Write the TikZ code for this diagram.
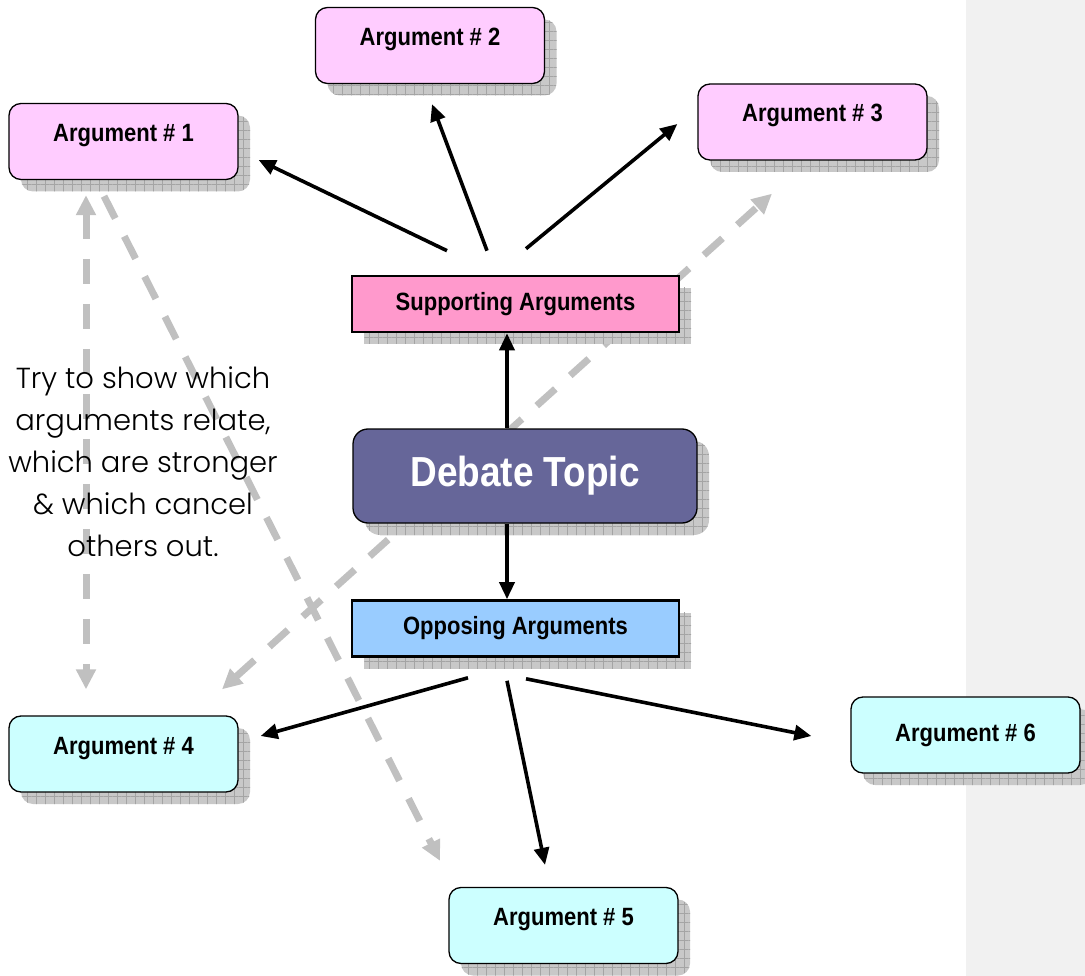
\documentclass[tikz,border=0pt]{standalone}
\usepackage{fontspec}
\usepackage{xcolor}
\usetikzlibrary{arrows.meta, positioning, calc, shadows, patterns.meta, backgrounds}
\setmainfont{Liberation Sans}
\newfontfamily\boxfont[FakeStretch=0.88]{Liberation Sans}
\newfontfamily\notefont{Poppins Light}
\definecolor{dbpink}{HTML}{FFCCFF}
\definecolor{dbrose}{HTML}{FF99CC}
\definecolor{dbpurple}{HTML}{666699}
\definecolor{dbblue}{HTML}{99CCFF}
\definecolor{dbcyan}{HTML}{CCFFFF}
\definecolor{dbshadow}{HTML}{C8C8C8}
\definecolor{dbgrid}{HTML}{A4A4A4}
\definecolor{dbdash}{HTML}{C0C0C0}
\definecolor{dbpanel}{HTML}{F1F1F1}

\begin{document}
\begin{tikzpicture}[
  x=1pt, y=-1pt,
  shadowed/.style={
    general shadow={shadow xshift=12pt, shadow yshift=-12pt, fill=dbshadow},
    general shadow={shadow xshift=12pt, shadow yshift=-12pt, pattern={Lines[angle=0, distance=9pt, line width=0.5pt]}, pattern color=dbgrid},
    general shadow={shadow xshift=12pt, shadow yshift=-12pt, pattern={Lines[angle=90, distance=9pt, line width=0.5pt]}, pattern color=dbgrid}},
  argbox/.style={rectangle, rounded corners=12pt, draw, line width=1.3pt, fill=#1, minimum width=229pt, minimum height=76pt, font=\boxfont\bfseries\fontsize{25}{29}\selectfont, shadowed},
  raised/.style={text height=18pt, text depth=18pt},
  sidebox/.style={rectangle, draw, line width=2.6pt, fill=#1, minimum width=327pt, minimum height=56pt, font=\boxfont\bfseries\fontsize{25}{29}\selectfont, shadowed},
  topicbox/.style={rectangle, rounded corners=15pt, draw, line width=1.3pt, fill=dbpurple, text=white, minimum width=344pt, minimum height=94pt, font=\boxfont\bfseries\fontsize{42}{46}\selectfont, shadowed},
  note/.style={align=center, font=\notefont\fontsize{29}{42}\selectfont},
  arrow/.style={-{Triangle[length=17pt, width=15pt]}, line width=3.6pt},
  hint/.style={line width=7pt, dbdash, dash pattern=on 25pt off 20pt},
  hinttip/.tip={Triangle[length=20pt, width=19pt]},
]
\useasboundingbox (0,0) rectangle (1085,976);

\node[argbox=dbpink, raised] (arg1) at (123.5,141.5) {Argument \# 1};
\node[argbox=dbpink, raised] (arg2) at (430,45.5) {Argument \# 2};
\node[argbox=dbpink, raised] (arg3) at (812.5,122) {Argument \# 3};
\node[sidebox=dbrose] (supp) at (515.5,304) {Supporting Arguments};
\node[topicbox] (topic) at (525,476) {Debate Topic};
\node[sidebox=dbblue] (opp) at (515.5,628.5) {Opposing Arguments};
\node[argbox=dbcyan, raised] (arg4) at (123.5,754) {Argument \# 4};
\node[argbox=dbcyan, raised] (arg5) at (563.5,925.5) {Argument \# 5};
\node[argbox=dbcyan] (arg6) at (965.5,735) {Argument \# 6};

% links between arguments, behind the boxes
\begin{scope}[on background layer]
\fill[dbpanel] (966,0) rectangle (1085,976);
\draw[hint, hinttip-hinttip] ([xshift=-37.5pt, yshift=-15pt]arg1.south) -- ([xshift=-37.5pt, yshift=26pt]arg4.north);
\draw[hint, -hinttip] ([xshift=-19.5pt, yshift=-16pt]arg1.south) -- ([xshift=-123.5pt, yshift=26pt]arg5.north);
\draw[hint, hinttip-hinttip] ([xshift=98.5pt, yshift=26pt]arg4.north) -- ([xshift=-40.5pt, yshift=-33pt]arg3.south);
\end{scope}

\node[note] (hintnote) at (143,462) {Try to show which\\arguments relate,\\which are stronger\\\& which cancel\\others out.};

\draw[arrow] ([xshift=-18pt]topic.north) -- ([xshift=-8.5pt]supp.south);
\draw[arrow] ([xshift=-18pt]topic.south) -- ([xshift=-8.5pt]opp.north);

% supporting side
\draw[arrow] ([xshift=-68.5pt, yshift=24pt]supp.north) -- ([xshift=20pt, yshift=-18.5pt]arg1.east);
\draw[arrow] ([xshift=-28.5pt, yshift=24pt]supp.north) -- ([xshift=2pt, yshift=-20pt]arg2.south);
\draw[arrow] ([xshift=10.5pt, yshift=26pt]supp.north) -- ([xshift=-20pt, yshift=-2pt]arg3.west);

% opposing side
\draw[arrow] ([xshift=-47.5pt, yshift=-20pt]opp.south) -- ([xshift=22pt, yshift=18pt]arg4.east);
\draw[arrow] ([xshift=-8.5pt, yshift=-23pt]opp.south) -- ([xshift=-18.5pt, yshift=22pt]arg5.north);
\draw[arrow] ([xshift=10.5pt, yshift=-21pt]opp.south) -- ([xshift=-39pt, yshift=-1pt]arg6.west);

\end{tikzpicture}
\end{document}
